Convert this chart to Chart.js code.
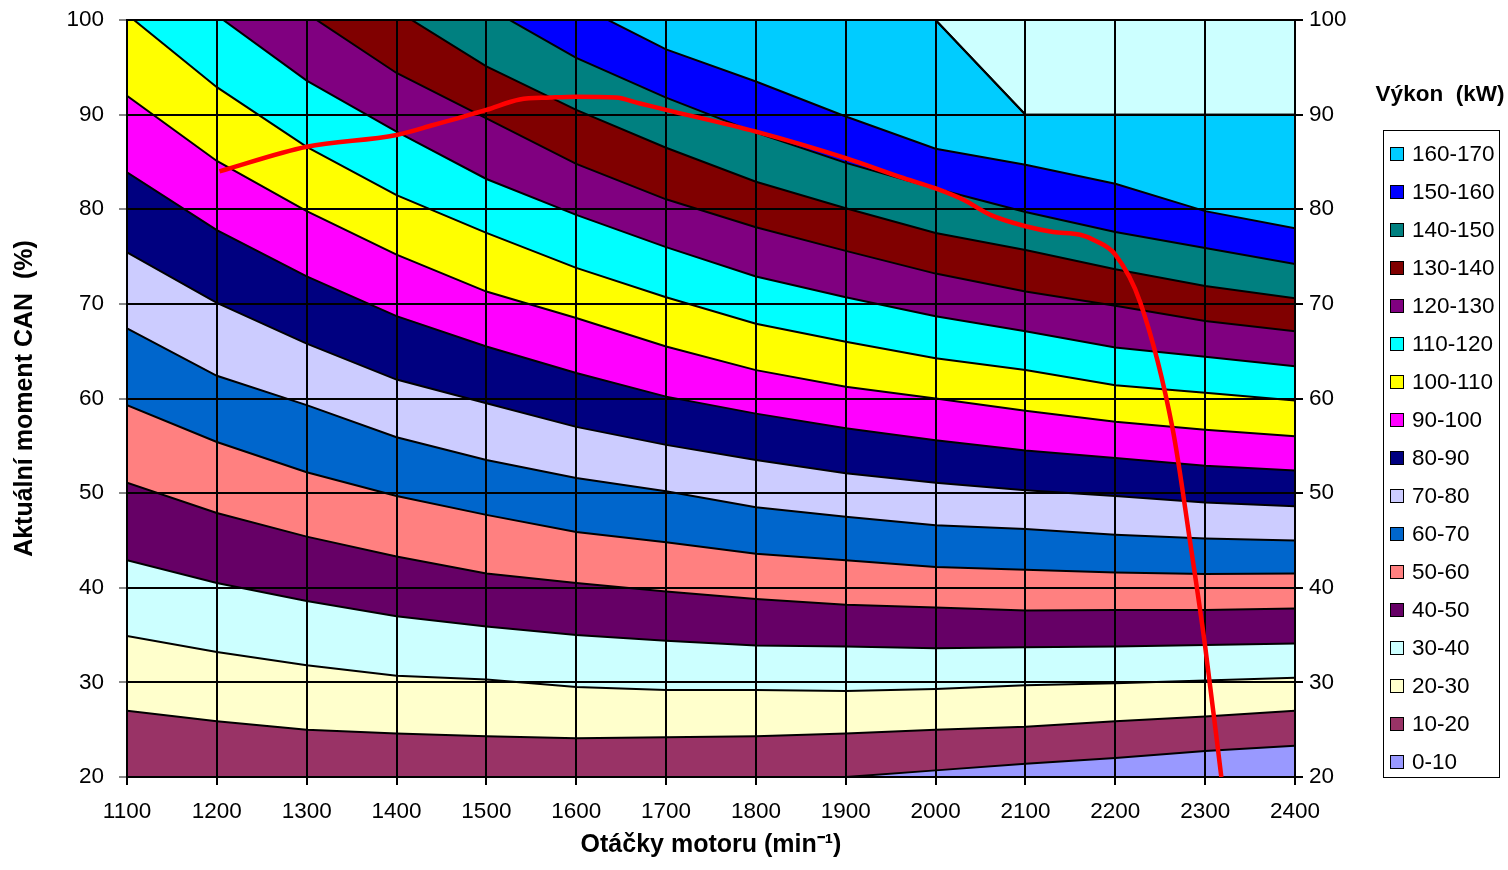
<!DOCTYPE html>
<html>
<head>
<meta charset="utf-8">
<script src="https://cdn.jsdelivr.net/npm/chart.js@4.4.1/dist/chart.umd.min.js"></script>
<style>
  html, body { margin: 0; padding: 0; background: #fff; }
  #wrap { position: relative; width: 1508px; height: 870px; }
  #legendTitle { position: absolute; left: 1370px; top: 81px; width: 140px; text-align: center;
    font: bold 22.5px 'Liberation Sans', Arial, sans-serif; white-space: pre; color: #000; }
  #legend { position: absolute; left: 1383px; top: 130px; width: 115px; height: 646px;
    border: 1.5px solid #000; font: 22.5px 'Liberation Sans', Arial, sans-serif; color: #000; }
  .item { position: absolute; left: 6px; height: 26px; line-height: 26px; white-space: nowrap; }
  .sw { display: inline-block; width: 12px; height: 12px; border: 1px solid #000;
    vertical-align: middle; margin: -3px 8px 0 0; }
</style>
</head>
<body>
<div id="wrap">
  <canvas id="myChart" width="1508" height="870"></canvas>
  <div id="legendTitle">Výkon  (kW)</div>
  <div id="legend"></div>
</div>
<script>
// engine speed grid (min-1)
const rpm = [1100, 1200, 1300, 1400, 1500, 1600, 1700, 1800, 1900, 2000, 2100, 2200, 2300, 2400];

// torque % where power reaches each band boundary (kW)
const p10  = [15.5, 16, 16.5, 17, 17.5, 18, 18.5, 19.2, 20.0, 20.7, 21.4, 22.0, 22.75, 23.3];
const p20  = [27.0, 25.9, 25.0, 24.6, 24.3, 24.1, 24.2, 24.3, 24.6, 25.0, 25.3, 25.9, 26.4, 27.0];
const p30  = [34.9, 33.2, 31.8, 30.7, 30.3, 29.5, 29.2, 29.2, 29.1, 29.3, 29.7, 29.9, 30.2, 30.5];
const p40  = [42.9, 40.5, 38.6, 37.0, 35.9, 35.0, 34.4, 33.9, 33.8, 33.6, 33.7, 33.8, 33.95, 34.1];
const p50  = [51.1, 47.9, 45.4, 43.3, 41.5, 40.5, 39.6, 38.8, 38.2, 37.9, 37.6, 37.65, 37.65, 37.8];
const p60  = [59.3, 55.4, 52.2, 49.7, 47.7, 45.9, 44.8, 43.6, 42.9, 42.2, 41.9, 41.6, 41.45, 41.5];
const p70  = [67.4, 62.4, 59.3, 55.9, 53.5, 51.6, 50.2, 48.5, 47.5, 46.6, 46.2, 45.6, 45.2, 45.0];
const p80  = [75.45, 70.1, 65.8, 62.0, 59.5, 57.0, 55.1, 53.5, 52.1, 51.1, 50.3, 49.7, 49.0, 48.6];
const p90  = [83.9, 77.8, 72.9, 68.7, 65.5, 62.7, 60.2, 58.4, 56.85, 55.6, 54.5, 53.7, 52.9, 52.4];
const p100 = [92.0, 85.1, 79.8, 75.2, 71.3, 68.5, 65.5, 63.0, 61.25, 60.0, 58.7, 57.55, 56.7, 56.0];
const p110 = [100.6, 92.9, 86.6, 81.5, 77.5, 73.8, 70.7, 67.9, 66.0, 64.25, 63.0, 61.4, 60.6, 59.8];
const p120 = [108, 100.5, 93.6, 88.2, 83.2, 79.4, 76.0, 72.9, 70.7, 68.7, 67.1, 65.4, 64.4, 63.4];
const p130 = [114, 107, 100.7, 94.4, 89.6, 84.8, 81.05, 78.1, 75.6, 73.2, 71.3, 69.8, 68.2, 67.1];
const p140 = [120, 113, 107, 101.0, 95.1, 90.5, 86.5, 82.9, 80.1, 77.5, 75.7, 73.65, 71.9, 70.6];
const p150 = [125, 119, 113, 107, 101.4, 96.0, 91.8, 88.1, 84.9, 82.2, 79.7, 77.6, 75.9, 74.2];
const p160 = [130, 124, 118, 112, 107, 101.7, 96.9, 93.5, 89.8, 86.4, 84.7, 82.7, 79.8, 78.0];
const p170 = [150, 145, 140, 130, 125, 120, 115, 110, 105, 100, 90, 90, 90, 90];

const bandLabels = ["0-10", "10-20", "20-30", "30-40", "40-50", "50-60", "60-70", "70-80",
  "80-90", "90-100", "100-110", "110-120", "120-130", "130-140", "140-150", "150-160", "160-170"];
const bandColors = ["#9999FF", "#993366", "#FFFFCC", "#CCFFFF", "#660066", "#FF8080", "#0066CC", "#CCCCFF",
  "#000080", "#FF00FF", "#FFFF00", "#00FFFF", "#800080", "#800000", "#008080", "#0000FF", "#00CCFF"];

// full load torque curve
const torqueRpm = [1203, 1300, 1400, 1441, 1500, 1537, 1571, 1600, 1644, 1670, 1700, 1800, 1900, 1961,
  2000, 2031, 2061, 2100, 2131, 2161, 2176, 2200, 2228, 2264, 2283, 2300, 2318];
const torqueVal = [84.0, 86.6, 87.85, 88.9, 90.5, 91.6, 91.8, 91.9, 91.8, 91.2, 90.5, 88.2, 85.4, 83.4,
  82.2, 81.0, 79.4, 78.2, 77.6, 77.3, 76.75, 75.2, 70.1, 56.7, 45.0, 33.8, 20.0];

const xTicks = [1100, 1200, 1300, 1400, 1500, 1600, 1700, 1800, 1900, 2000, 2100, 2200, 2300, 2400];
const yTicks = [20, 30, 40, 50, 60, 70, 80, 90, 100];

const boundaries = [p10, p20, p30, p40, p50, p60, p70, p80, p90, p100, p110, p120, p130, p140, p150, p160, p170];
const toXY = arr => rpm.map((x, i) => ({ x: x, y: arr[i] }));

const FONT = "'Liberation Sans', Arial, sans-serif";

// red curve goes first: the filler skips a fill whose target index is 0
const datasets = [{
  label: 'M max',
  data: torqueRpm.map((x, i) => ({ x: x, y: torqueVal[i] })),
  borderColor: '#FF0000',
  borderWidth: 4.5,
  pointRadius: 0,
  fill: false,
  cubicInterpolationMode: 'monotone',
  order: -1
}];

boundaries.forEach((b, i) => {
  datasets.push({
    label: bandLabels[i],
    data: toXY(b),
    backgroundColor: bandColors[i],
    borderColor: '#000',
    borderWidth: 2,
    pointRadius: 0,
    tension: 0,
    fill: i === 0 ? 'start' : '-1'
  });
});
// area above the last boundary
datasets.push({
  label: '170-180',
  data: toXY(p170),
  backgroundColor: '#CCFFFF',
  borderColor: '#000',
  borderWidth: 2,
  pointRadius: 0,
  fill: 'end'
});

const tickFont = { family: FONT, size: 22.5 };
const titleFont = { family: FONT, size: 25, weight: 'bold' };

// vertical axes: fixed width, no extra room for the end labels
const fitY = w => s => { s.width = w; s.paddingTop = 0; s.paddingBottom = 0; };

new Chart("myChart", {
  type: 'line',
  data: { datasets: datasets },
  options: {
    responsive: false,
    animation: false,
    layout: { padding: { left: 0, right: 153, top: 20, bottom: 0 } },
    plugins: {
      legend: { display: false },
      tooltip: { enabled: false },
      filler: { drawTime: 'beforeDraw' }
    },
    scales: {
      x: {
        type: 'linear',
        min: 1100,
        max: 2400,
        afterBuildTicks: s => { s.ticks = xTicks.map(v => ({ value: v })); },
        afterFit: s => { s.height = 93; s.paddingLeft = 0; s.paddingRight = 0; },
        ticks: { font: tickFont, color: '#000', padding: 13, maxRotation: 0, callback: v => String(v) },
        grid: { color: '#000', lineWidth: 2, tickLength: 8, tickColor: '#000' },
        border: { color: '#000', width: 2 },
        title: { display: true, text: 'Otáčky motoru (min⁻¹)', font: titleFont, color: '#000', padding: { top: 0, bottom: 10 } }
      },
      y: {
        position: 'left',
        min: 20,
        max: 100,
        afterBuildTicks: s => { s.ticks = yTicks.map(v => ({ value: v })); },
        afterFit: fitY(127),
        ticks: { font: tickFont, color: '#000', padding: 15 },
        grid: { color: '#000', lineWidth: 2, tickLength: 8, tickColor: '#888' },
        border: { color: '#000', width: 2 },
        title: { display: true, text: 'Aktuální moment CAN  (%)', font: titleFont, color: '#000', padding: { top: 10, bottom: 0 } }
      },
      y2: {
        position: 'right',
        min: 20,
        max: 100,
        afterBuildTicks: s => { s.ticks = yTicks.map(v => ({ value: v })); },
        afterFit: fitY(60),
        ticks: { font: tickFont, color: '#000', padding: 6 },
        grid: { drawOnChartArea: false, tickLength: 8, tickColor: '#000', lineWidth: 2 },
        border: { color: '#000', width: 2 }
      }
    }
  }
});

// legend box, highest band on top
const legend = document.getElementById('legend');
for (let k = bandLabels.length - 1, row = 0; k >= 0; k--, row++) {
  const item = document.createElement('div');
  item.className = 'item';
  item.style.top = (10 + row * 38) + 'px';
  item.innerHTML = '<span class="sw" style="background:' + bandColors[k] + '"></span>' + bandLabels[k];
  legend.appendChild(item);
}
</script>
</body>
</html>
